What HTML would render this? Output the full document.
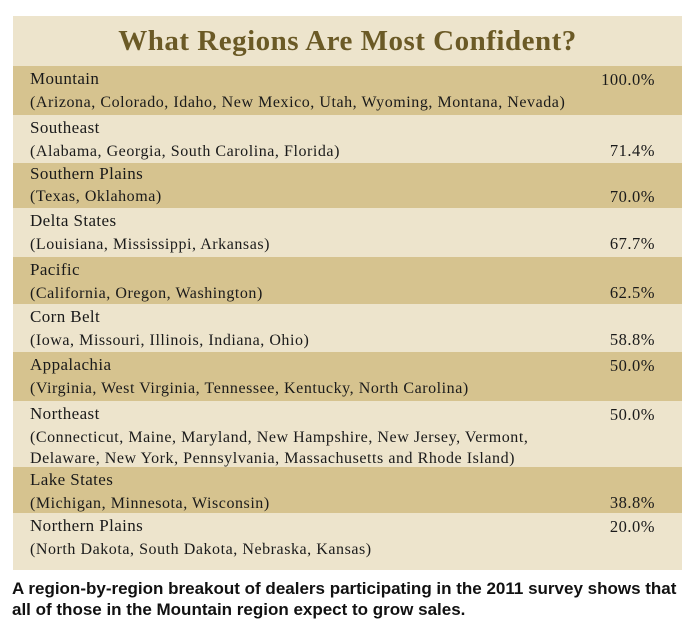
<!DOCTYPE html><html><head><style>
body{margin:0;width:690px;height:636px;background:#fff;position:relative;font-family:"Liberation Serif",serif;color:#1a1a1a;overflow:hidden}
#panel{position:absolute;left:13px;top:16px;width:669px;height:554px;background:#ede4cc}
h1{position:absolute;left:0;top:0;width:669px;margin:0;text-align:center;font-size:29px;line-height:50px;font-weight:bold;color:#6b5a26;letter-spacing:0.5px}
.r{position:absolute;left:0;width:669px}
.d{background:#d6c38f}
.n{position:absolute;left:17px;font-size:17px;letter-spacing:0.4px;top:3px}
.s{position:absolute;left:17px;font-size:16px;letter-spacing:0.55px;top:26px;line-height:21px;white-space:nowrap}
.p{position:absolute;right:27px;font-size:16.5px;letter-spacing:0.5px}
#cap{position:absolute;left:12px;top:578px;width:680px;font-family:"Liberation Sans Narrow","Liberation Sans",sans-serif;font-weight:bold;font-size:17px;line-height:21px;color:#111;white-space:nowrap}
</style></head><body>
<div id="panel">
<h1>What Regions Are Most Confident?</h1>
<div class="r d" style="top:50px;height:49px"><div class="n">Mountain</div><div class="s">(Arizona, Colorado, Idaho, New Mexico, Utah, Wyoming, Montana, Nevada)</div><div class="p" style="top:4px">100.0%</div></div>
<div class="r" style="top:99px;height:48px"><div class="n">Southeast</div><div class="s">(Alabama, Georgia, South Carolina, Florida)</div><div class="p" style="top:26px">71.4%</div></div>
<div class="r d" style="top:147px;height:45px"><div class="n" style="top:1px">Southern Plains</div><div class="s" style="top:23px">(Texas, Oklahoma)</div><div class="p" style="top:24px">70.0%</div></div>
<div class="r" style="top:192px;height:49px"><div class="n">Delta States</div><div class="s">(Louisiana, Mississippi, Arkansas)</div><div class="p" style="top:26px">67.7%</div></div>
<div class="r d" style="top:241px;height:47px"><div class="n">Pacific</div><div class="s">(California, Oregon, Washington)</div><div class="p" style="top:26px">62.5%</div></div>
<div class="r" style="top:288px;height:48px"><div class="n">Corn Belt</div><div class="s">(Iowa, Missouri, Illinois, Indiana, Ohio)</div><div class="p" style="top:26px">58.8%</div></div>
<div class="r d" style="top:336px;height:49px"><div class="n">Appalachia</div><div class="s">(Virginia, West Virginia, Tennessee, Kentucky, North Carolina)</div><div class="p" style="top:4px">50.0%</div></div>
<div class="r" style="top:385px;height:66px"><div class="n">Northeast</div><div class="s">(Connecticut, Maine, Maryland, New Hampshire, New Jersey, Vermont,<br>Delaware, New York, Pennsylvania, Massachusetts and Rhode Island)</div><div class="p" style="top:4px">50.0%</div></div>
<div class="r d" style="top:451px;height:46px"><div class="n">Lake States</div><div class="s">(Michigan, Minnesota, Wisconsin)</div><div class="p" style="top:26px">38.8%</div></div>
<div class="r" style="top:497px;height:57px"><div class="n">Northern Plains</div><div class="s">(North Dakota, South Dakota, Nebraska, Kansas)</div><div class="p" style="top:4px">20.0%</div></div>
</div>
<div id="cap">A region-by-region breakout of dealers participating in the 2011 survey shows that<br>all of those in the Mountain region expect to grow sales.</div>
</body></html>
